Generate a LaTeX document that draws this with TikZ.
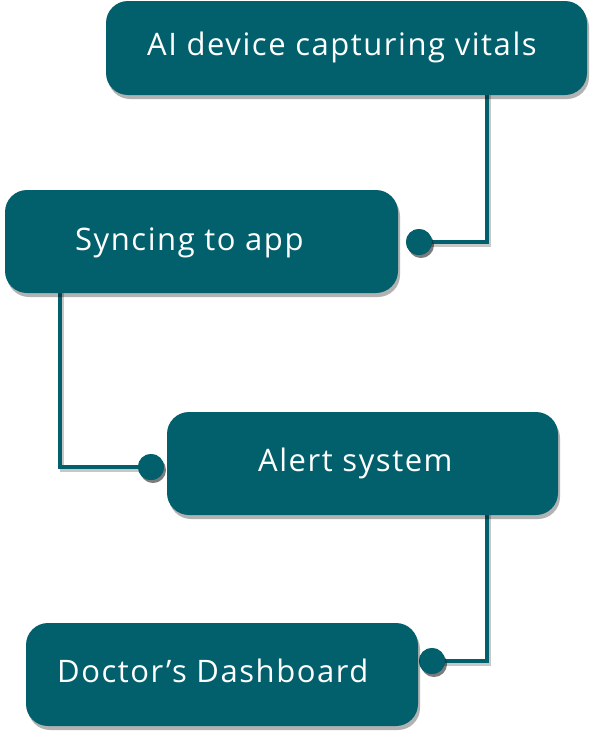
\documentclass[tikz,border=0pt]{standalone}
\usepackage{fontspec}
\setmainfont{Open Sans}
\newfontfamily\lblfont[LetterSpace=5]{Open Sans}
\usetikzlibrary{shadows}
\definecolor{teal1}{HTML}{02606D}
\tikzset{
  x=1pt,y=-1pt,
  box/.style={fill=teal1, rounded corners=22pt, drop shadow={shadow xshift=2pt, shadow yshift=-4pt, opacity=0.3, fill=black}},
  lbl/.style={text=white, anchor=base west, inner sep=0pt, font=\lblfont\fontsize{31}{36}\selectfont},
  conn/.style={draw=teal1, line width=4pt, preaction={draw=black, opacity=0.22, line width=4pt, transform canvas={xshift=2pt,yshift=-3pt}}},
  dot/.style={circle, fill=teal1, minimum size=26pt, inner sep=0pt, drop shadow={shadow xshift=2pt, shadow yshift=-3pt, opacity=0.3, fill=black}}
}
\begin{document}
\begin{tikzpicture}
\useasboundingbox (0,0) rectangle (593,740);
% connectors first (behind boxes)
\coordinate (c1a) at (487,90);
\coordinate (c1b) at (487,242);
\coordinate (c2a) at (60,288);
\coordinate (c2b) at (60,467);
\coordinate (c3a) at (487,510);
\coordinate (c3b) at (487,661);
\node[dot] (d1) at (419,242) {};
\node[dot] (d2) at (151,467) {};
\node[dot] (d3) at (432,661) {};
\draw[conn] (c1a) -- (c1b) -- (d1.center);
\draw[conn] (c2a) -- (c2b) -- (d2.center);
\draw[conn] (c3a) -- (c3b) -- (d3.center);
\node[dot] at (d1) {};
\node[dot] at (d2) {};
\node[dot] at (d3) {};
% boxes
\path[box] (106,1) rectangle (587,95);
\path[box] (5,190) rectangle (398,293);
\path[box] (167,412) rectangle (558,515);
\path[box] (26,623) rectangle (418,726);
% labels
\node[lbl] (t1) at (147,55) {AI device capturing vitals};
\node[lbl] (t2) at (75,250) {Syncing to app};
\node[lbl] (t3) at (258,471) {Alert system};
\node[lbl] (t4) at (57,682) {Doctor’s Dashboard};
\end{tikzpicture}
\end{document}
